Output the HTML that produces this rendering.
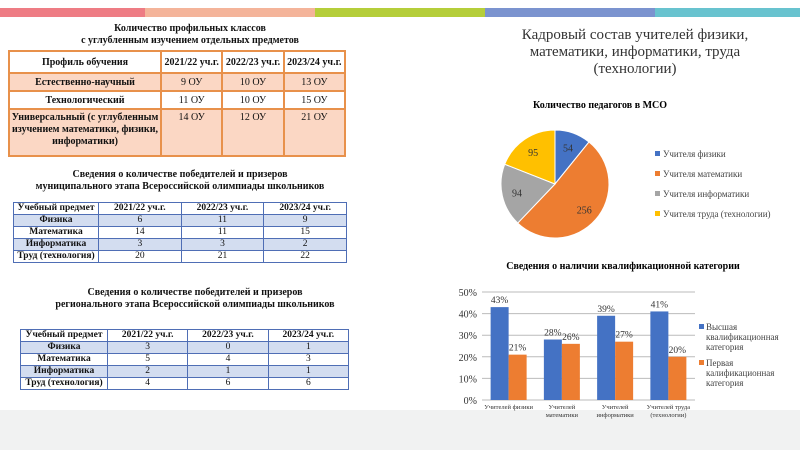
<!DOCTYPE html>
<html><head><meta charset="utf-8"><style>
body{margin:0;width:800px;height:450px;overflow:hidden;background:#fff;font-family:"Liberation Serif",serif;color:#111;position:relative}
.abs{position:absolute}
.t{font-weight:bold;font-size:10px;text-align:center;line-height:12px}
table{position:absolute;border-collapse:collapse;font-size:9.5px}
td{padding:0;text-align:center}
.t1 td{border:2px solid #E8914B;background:#FBD7C4;vertical-align:middle;font-size:10px}
.t1 tr.w td{background:#fff}
.t1 tr.hd td{font-weight:bold}
.t1 tr.tall td{vertical-align:top;padding-top:2px}
.t2 td{border:1.5px solid #4F6EB5;height:11px;line-height:11px}
.t2 tr.s td{background:#D3DDF0}
.b{font-weight:bold}
</style></head><body>
<div class="abs" style="left:0;top:8px;width:145px;height:9px;background:#EE7C84"></div>
<div class="abs" style="left:145px;top:8px;width:170px;height:9px;background:#F4B49A"></div>
<div class="abs" style="left:315px;top:8px;width:170px;height:9px;background:#B5CE3A"></div>
<div class="abs" style="left:485px;top:8px;width:170px;height:9px;background:#7B93CF"></div>
<div class="abs" style="left:655px;top:8px;width:145px;height:9px;background:#68C3CF"></div>
<div class="abs" style="left:0;top:410px;width:800px;height:40px;background:#F1F2F2"></div>

<div class="abs t" style="left:40px;top:23px;width:300px">Количество профильных классов<br>с углубленным изучением отдельных предметов</div>
<table class="t1" style="left:8px;top:50px;width:338px">
<tr class="hd w" style="height:22px"><td style="width:150px">Профиль обучения</td><td>2021/22 уч.г.</td><td>2022/23 уч.г.</td><td>2023/24 уч.г.</td></tr>
<tr style="height:18px"><td class="b">Естественно-научный</td><td>9 ОУ</td><td>10 ОУ</td><td>13 ОУ</td></tr>
<tr class="w" style="height:18px"><td class="b">Технологический</td><td>11 ОУ</td><td>10 ОУ</td><td>15 ОУ</td></tr>
<tr class="tall" style="height:47px"><td class="b" style="line-height:12px">Универсальный (с углубленным изучением математики, физики, информатики)</td><td>14 ОУ</td><td>12 ОУ</td><td>21 ОУ</td></tr>
</table>

<div class="abs t" style="left:30px;top:169px;width:300px">Сведения о количестве победителей и призеров<br>муниципального этапа Всероссийской олимпиады школьников</div>
<table class="t2" style="left:13px;top:202px;width:334px">
<tr><td class="b" style="width:84px">Учебный предмет</td><td class="b">2021/22 уч.г.</td><td class="b">2022/23 уч.г.</td><td class="b">2023/24 уч.г.</td></tr>
<tr class="s"><td class="b">Физика</td><td>6</td><td>11</td><td>9</td></tr>
<tr><td class="b">Математика</td><td>14</td><td>11</td><td>15</td></tr>
<tr class="s"><td class="b">Информатика</td><td>3</td><td>3</td><td>2</td></tr>
<tr><td class="b">Труд (технология)</td><td>20</td><td>21</td><td>22</td></tr>
</table>

<div class="abs t" style="left:45px;top:287px;width:300px">Сведения о количестве победителей и призеров<br>регионального этапа Всероссийской олимпиады школьников</div>
<table class="t2" style="left:20px;top:329px;width:329px">
<tr><td class="b" style="width:86px">Учебный предмет</td><td class="b">2021/22 уч.г.</td><td class="b">2022/23 уч.г.</td><td class="b">2023/24 уч.г.</td></tr>
<tr class="s"><td class="b">Физика</td><td>3</td><td>0</td><td>1</td></tr>
<tr><td class="b">Математика</td><td>5</td><td>4</td><td>3</td></tr>
<tr class="s"><td class="b">Информатика</td><td>2</td><td>1</td><td>1</td></tr>
<tr><td class="b">Труд (технология)</td><td>4</td><td>6</td><td>6</td></tr>
</table>

<div class="abs" style="left:520px;top:27px;width:230px;text-align:center;font-size:15px;line-height:17px;color:#333">Кадровый состав учителей физики, математики, информатики, труда (технологии)</div>

<svg class="abs" style="left:0;top:0" width="800" height="450">
<g id="pie"></g>
<g id="bar"></g>
</svg>
<script>
const pieLabels=["Учителя физики","Учителя математики","Учителя информатики","Учителя труда (технологии)"];
const pieValues=[54,256,94,95];
const pieColors=["#4472C4","#ED7D31","#A5A5A5","#FFC000"];
const barCats=[["Учителей физики"],["Учителей","математики"],["Учителей","информатики"],["Учителей труда","(технологии)"]];
const highValues=[43,28,39,41];
const firstValues=[21,26,27,20];
const yTicks=[0,10,20,30,40,50];
const NS="http://www.w3.org/2000/svg";
function mk(p,t,a,txt){const e=document.createElementNS(NS,t);for(const k in a)e.setAttribute(k,a[k]);if(txt!==undefined)e.textContent=txt;p.appendChild(e);return e;}
const pg=document.getElementById('pie');
let e=mk(pg,'text',{x:600,y:108,'text-anchor':'middle','font-size':10,'font-weight':'bold','font-family':'Liberation Serif'},'Количество педагогов в МСО');

const cx=555,cy=184,r=54,tot=pieValues.reduce((a,b)=>a+b,0);
let ang=-Math.PI/2;
pieValues.forEach((v,i)=>{const a2=ang+v/tot*2*Math.PI;
const x1=cx+r*Math.cos(ang),y1=cy+r*Math.sin(ang),x2=cx+r*Math.cos(a2),y2=cy+r*Math.sin(a2);
const s=mk(pg,'path',{d:`M${cx},${cy}L${x1},${y1}A${r},${r} 0 ${a2-ang>Math.PI?1:0} 1 ${x2},${y2}Z`,fill:pieColors[i],stroke:'#fff','stroke-width':1});

const m=(ang+a2)/2,lr=r*0.72;
const l=mk(pg,'text',{x:cx+lr*Math.cos(m),y:cy+lr*Math.sin(m)+4,'text-anchor':'middle','font-size':10,fill:'#333','font-family':'Liberation Serif'},v);

ang=a2;
const ly=157+i*20;
const sw=mk(pg,'rect',{x:655,y:ly-6,width:5,height:5,fill:pieColors[i]});

const lt=mk(pg,'text',{x:663,y:ly,'font-size':9,fill:'#444','font-family':'Liberation Serif'},pieLabels[i]);

});
const bg=document.getElementById('bar');
const X0=482,X1=695,Y0=400,Y1=292;
const ys=v=>Y0-(v/50)*(Y0-Y1);
e=mk(bg,'text',{x:623,y:269,'text-anchor':'middle','font-size':10,'font-weight':'bold','font-family':'Liberation Serif'},'Сведения о наличии квалификационной категории');

yTicks.forEach(t=>{const g=mk(bg,'line',{x1:X0,x2:X1,y1:ys(t),y2:ys(t),stroke:'#bbb','stroke-width':1});

const tl=mk(bg,'text',{x:X0-5,y:ys(t)+4,'text-anchor':'end','font-size':10,fill:'#333','font-family':'Liberation Serif'},t+'%');
});
const gw=(X1-X0)/barCats.length,bw=18;
barCats.forEach((c,i)=>{const gx=X0+i*gw+gw/2;
[[highValues[i],'#4472C4',gx-bw],[firstValues[i],'#ED7D31',gx]].forEach(([v,col,x],k)=>{
const b=mk(bg,'rect',{x:x,y:ys(v),width:bw,height:Y0-ys(v),fill:col});

const vl=mk(bg,'text',{x:x+bw/2,y:ys(v)-4,'text-anchor':'middle','font-size':9.5,fill:'#333','font-family':'Liberation Serif'},v+'%');
});
c.forEach((ln,j)=>{const cl=mk(bg,'text',{x:gx,y:409+j*8,'text-anchor':'middle','font-size':6.5,fill:'#333','font-family':'Liberation Serif'},ln);
});
});
const leg=[[["Высшая","квалификационная","категория"],'#4472C4',330],[["Первая","калификационная","категория"],'#ED7D31',366]];
leg.forEach(([ls,col,y])=>{const s=mk(bg,'rect',{x:699,y:y-6,width:5,height:5,fill:col});

ls.forEach((ln,j)=>{const t=mk(bg,'text',{x:706,y:y+j*10,'font-size':9,fill:'#444','font-family':'Liberation Serif'},ln);
});});
</script>
</body></html>
